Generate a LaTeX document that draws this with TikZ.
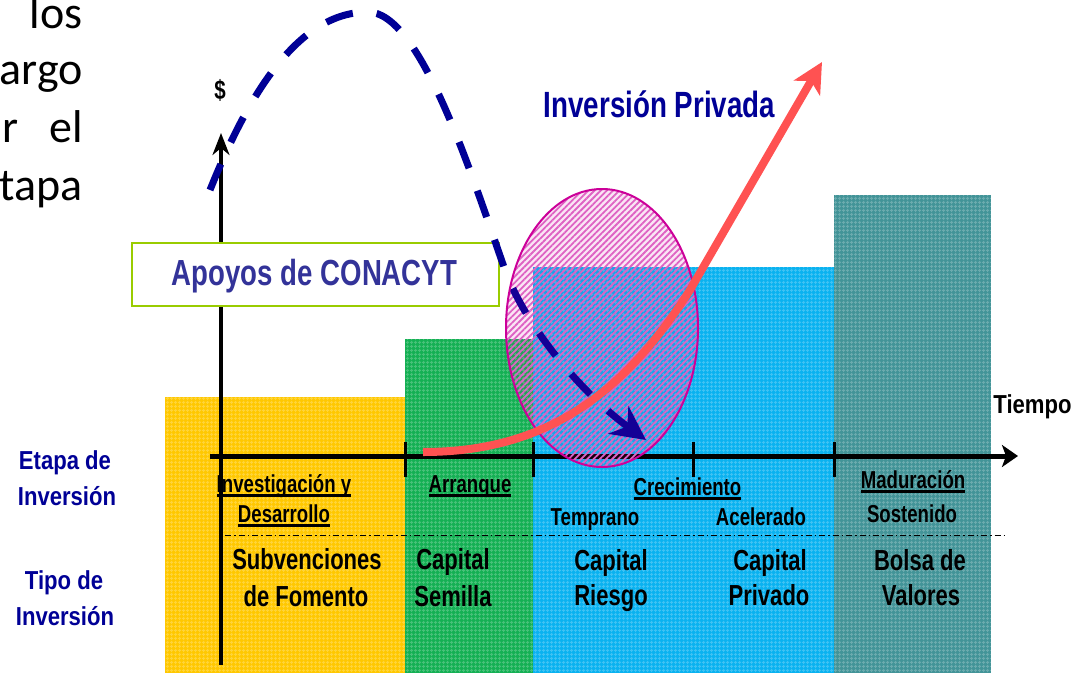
\documentclass[tikz,border=0pt]{standalone}
\usepackage{fontspec}
\usetikzlibrary{arrows.meta,patterns.meta}
\newfontfamily\nf[FakeStretch=0.76]{Liberation Sans}
\newfontfamily\nfw[FakeStretch=0.85]{Liberation Sans}
\newfontfamily\calfont{Carlito}
\definecolor{cYel}{RGB}{255,200,0}
\definecolor{cGrn}{RGB}{20,176,84}
\definecolor{cCya}{RGB}{10,178,240}
\definecolor{cTea}{RGB}{66,148,152}
\definecolor{cNavy}{RGB}{0,0,150}
\definecolor{cApo}{RGB}{51,51,153}
\definecolor{cBox}{RGB}{153,204,0}
\definecolor{cRed}{RGB}{255,82,82}
\definecolor{cBlu}{RGB}{0,0,150}
\definecolor{cMag}{RGB}{225,110,200}
\definecolor{cMagD}{RGB}{204,0,153}
\newsavebox\ulbox
\newcommand\ulx[1]{\sbox\ulbox{#1}\rlap{\rule[-5pt]{\wd\ulbox}{3.5pt}}\usebox\ulbox}
\begin{document}
\begin{tikzpicture}[x=1pt,y=-1pt,
  stage/.style={font=\nf\bfseries\fontsize{24.5}{28}\selectfont, anchor=base, inner sep=0pt},
  kind/.style={font=\nf\bfseries\fontsize{29}{34}\selectfont, anchor=base, inner sep=0pt},
  side/.style={font=\nfw\bfseries\fontsize{26}{30}\selectfont, text=cNavy, anchor=base, inner sep=0pt},
  body/.style={font=\calfont\fontsize{46}{55}\selectfont, anchor=base east, inner sep=0pt},
  gridtex/.style={pattern={Hatch[angle=0,distance=4pt,line width=1pt]}, pattern color=white, fill opacity=0.22},
  tick/.style={line width=3pt}]
\useasboundingbox (0,0) rectangle (1083,673);
% text fragment at top left
\node[body] (t1) at (83,28) {los};
\node[body] (t2) at (83,84) {argo};
\node[body] (t3) at (83,142) {el};
\node[body, anchor=base west] (t3b) at (2,142) {r};
\node[body] (t4) at (83,200) {tapa};
% bars
\fill[cYel] (165,397) rectangle (405,673);
\fill[cGrn] (405,339) rectangle (533,673);
\fill[cCya] (533,267) rectangle (834,673);
\fill[cTea] (834,195) rectangle (991,673);
\fill[gridtex] (165,397) rectangle (405,673);
\fill[gridtex] (405,339) rectangle (533,673);
\fill[gridtex] (533,267) rectangle (834,673);
\fill[gridtex] (834,195) rectangle (991,673);
% axes
\coordinate (xo) at (210,456);
\coordinate (xe) at (1018,456);
\coordinate (yo) at (221,665);
\coordinate (ye) at (221,133);
\draw[line width=5pt, -{Stealth[length=16pt,width=22pt,inset=4pt]}] (xo) -- (xe);
\draw[line width=3.5pt, -{Stealth[length=22pt,width=17pt,inset=7pt]}] (yo) -- (ye);
\foreach \xx in {405,533,693,834} \draw[tick] (\xx,442) -- (\xx,477);
\draw[line width=1pt, dash pattern=on 6pt off 3pt on 1.5pt off 3pt] (225,535) -- (1005,535);
% box
\node[draw=cBox, line width=1.5pt, fill=white, minimum width=367pt, minimum height=63pt, inner sep=0pt] (box) at (315.5,274.5) {};
\node[font=\nf\bfseries\fontsize{36.3}{40}\selectfont, text=cApo, anchor=base, inner sep=0pt] (apoyos) at (314.5,285) {Apoyos de CONACYT};
% hatched ellipse
\fill[pattern={Lines[angle=45,distance=4.4pt,line width=1.8pt]}, pattern color=cMag, fill opacity=0.5]
  (602,328) ellipse [x radius=96pt, y radius=139pt];
% blue dashed curve
\draw[cBlu, line width=7pt, dash pattern=on 28pt off 24pt,
  -{Stealth[length=34pt,width=34pt,inset=11pt]}]
  (210,190) .. controls (250,90) and (300,12) .. (368,12)
  .. controls (420,12) and (470,170) .. (505,270)
  .. controls (525,325) and (580,392) .. (646,440);
% tint of the ellipse over the curve
\fill[cMagD, fill opacity=0.1] (602,328) ellipse [x radius=96pt, y radius=139pt];
\draw[cMagD, line width=2pt] (602,328) ellipse [x radius=96pt, y radius=139pt];
% red curve
\draw[cRed, line width=8pt, line join=round, -{Stealth[length=30pt,width=30pt,inset=8pt]}]
  (423,452) .. controls (540,452) and (620,400) .. (690,290) -- (822,62);
\node[font=\nf\bfseries\fontsize{36.5}{40}\selectfont, text=cNavy, anchor=base, inner sep=0pt] (privada) at (659.5,117) {Inversión Privada};
\node[font=\nf\bfseries\fontsize{27}{30}\selectfont, inner sep=0pt] (dollar) at (220,90) {\$};
\node[font=\nfw\bfseries\fontsize{26}{30}\selectfont, anchor=base, inner sep=0pt] (tiempo) at (1032.5,413) {Tiempo};
% side labels
\node[side] (et1) at (65,469) {Etapa de};
\node[side] (et2) at (67,505) {Inversión};
\node[side] (ti1) at (64,589) {Tipo de};
\node[side] (ti2) at (65,625) {Inversión};
% stage labels
\node[stage] (s1) at (284,492) {\ulx{Investigación y}};
\node[stage] (s1b) at (284,522) {\ulx{Desarrollo}};
\node[stage] (s2) at (470,492) {\ulx{Arranque}};
\node[stage] (s3) at (687.5,495) {\ulx{Crecimiento}};
\node[stage] (s3a) at (595,525) {Temprano};
\node[stage] (s3b) at (761,525) {Acelerado};
\node[stage] (s4) at (913,488) {\ulx{Maduración}};
\node[stage] (s4b) at (912,522) {Sostenido};
% type labels
\node[kind] (k1) at (307,569) {Subvenciones};
\node[kind] (k1b) at (306,606) {de Fomento};
\node[kind] (k2) at (453,569) {Capital};
\node[kind] (k2b) at (453,606) {Semilla};
\node[kind] (k3) at (611,570) {Capital};
\node[kind] (k3b) at (611,605) {Riesgo};
\node[kind] (k4) at (770,570) {Capital};
\node[kind] (k4b) at (769,605) {Privado};
\node[kind] (k5) at (920,570) {Bolsa de};
\node[kind] (k5b) at (921,605) {Valores};
\end{tikzpicture}
\end{document}
